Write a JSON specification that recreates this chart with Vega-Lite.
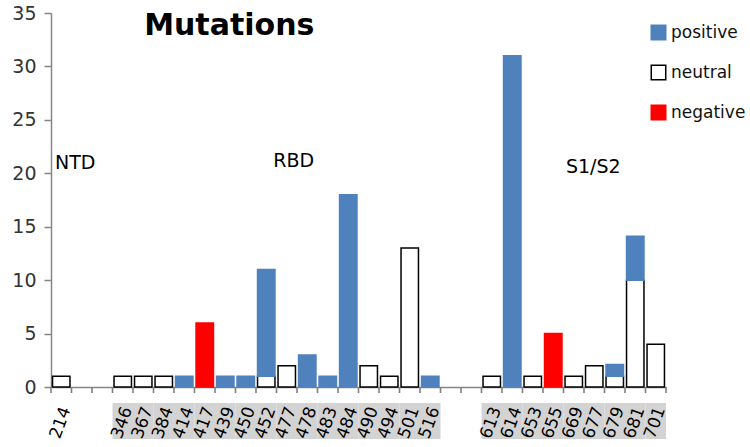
{
  "$schema": "https://vega.github.io/schema/vega-lite/v6.json",
  "padding": {"left": 11, "top": 4, "right": 0, "bottom": 0},
  "background": "white",
  "spacing": 0,
  "bounds": "flush",
  "config": {"view": {"stroke": null}, "font": "DejaVu Sans"},
  "datasets": {
    "bars": [
      {"pos": "214", "type": "neutral", "n": 1},
      {"pos": "346", "type": "neutral", "n": 1},
      {"pos": "367", "type": "neutral", "n": 1},
      {"pos": "384", "type": "neutral", "n": 1},
      {"pos": "414", "type": "positive", "n": 1},
      {"pos": "417", "type": "negative", "n": 6},
      {"pos": "439", "type": "positive", "n": 1},
      {"pos": "450", "type": "positive", "n": 1},
      {"pos": "452", "type": "neutral", "n": 1},
      {"pos": "452", "type": "positive", "n": 10},
      {"pos": "477", "type": "neutral", "n": 2},
      {"pos": "478", "type": "positive", "n": 3},
      {"pos": "483", "type": "positive", "n": 1},
      {"pos": "484", "type": "positive", "n": 18},
      {"pos": "490", "type": "neutral", "n": 2},
      {"pos": "494", "type": "neutral", "n": 1},
      {"pos": "501", "type": "neutral", "n": 13},
      {"pos": "516", "type": "positive", "n": 1},
      {"pos": "613", "type": "neutral", "n": 1},
      {"pos": "614", "type": "positive", "n": 31},
      {"pos": "653", "type": "neutral", "n": 1},
      {"pos": "655", "type": "negative", "n": 5},
      {"pos": "669", "type": "neutral", "n": 1},
      {"pos": "677", "type": "neutral", "n": 2},
      {"pos": "679", "type": "neutral", "n": 1},
      {"pos": "679", "type": "positive", "n": 1.1},
      {"pos": "681", "type": "neutral", "n": 10},
      {"pos": "681", "type": "positive", "n": 4.1},
      {"pos": "701", "type": "neutral", "n": 4}
    ],
    "labels": [
      {"pos": "214", "group": "NTD"},
      {"pos": "b1", "group": "none"},
      {"pos": "b2", "group": "none"},
      {"pos": "346", "group": "RBD"},
      {"pos": "367", "group": "RBD"},
      {"pos": "384", "group": "RBD"},
      {"pos": "414", "group": "RBD"},
      {"pos": "417", "group": "RBD"},
      {"pos": "439", "group": "RBD"},
      {"pos": "450", "group": "RBD"},
      {"pos": "452", "group": "RBD"},
      {"pos": "477", "group": "RBD"},
      {"pos": "478", "group": "RBD"},
      {"pos": "483", "group": "RBD"},
      {"pos": "484", "group": "RBD"},
      {"pos": "490", "group": "RBD"},
      {"pos": "494", "group": "RBD"},
      {"pos": "501", "group": "RBD"},
      {"pos": "516", "group": "RBD"},
      {"pos": "b3", "group": "none"},
      {"pos": "b4", "group": "none"},
      {"pos": "613", "group": "S1/S2"},
      {"pos": "614", "group": "S1/S2"},
      {"pos": "653", "group": "S1/S2"},
      {"pos": "655", "group": "S1/S2"},
      {"pos": "669", "group": "S1/S2"},
      {"pos": "677", "group": "S1/S2"},
      {"pos": "679", "group": "S1/S2"},
      {"pos": "681", "group": "S1/S2"},
      {"pos": "701", "group": "S1/S2"}
    ]
  },
  "resolve": {"scale": {"x": "independent"}},
  "vconcat": [
    {
      "width": 615,
      "height": 374,
      "layer": [
        {
          "data": {"name": "bars"},
          "mark": {"type": "bar", "strokeWidth": 1.5},
          "encoding": {
            "x": {
              "field": "pos", "type": "nominal",
              "scale": {
                "domain": ["214","b1","b2","346","367","384","414","417","439","450","452","477","478","483","484","490","494","501","516","b3","b4","613","614","653","655","669","677","679","681","701"],
                "paddingInner": 0.15, "paddingOuter": 0.075
              },
              "axis": {"labels": false, "ticks": false, "title": null, "domainColor": "#868686", "domainWidth": 1.5}
            },
            "y": {
              "field": "n", "type": "quantitative", "stack": "zero",
              "scale": {"domain": [0, 35], "nice": false},
              "axis": {"values": [0,5,10,15,20,25,30,35], "grid": false, "title": null, "tickSize": 7, "labelPadding": 8, "labelFontSize": 19, "labelColor": "#333333", "labelFont": "DejaVu Sans", "domainColor": "#868686", "tickColor": "#868686", "domainWidth": 1.5, "tickWidth": 1.5}
            },
            "fill": {
              "field": "type", "type": "nominal",
              "scale": {"domain": ["positive", "neutral", "negative"], "range": ["#4F81BD", "#FFFFFF", "#FF0000"]},
              "legend": {"title": null, "orient": "none", "legendX": 599, "legendY": 11, "symbolType": "square", "symbolSize": 210, "labelFontSize": 17, "labelFont": "DejaVu Sans", "labelColor": "#111111", "rowPadding": 19, "labelOffset": 4, "padding": 0}
            },
            "stroke": {
              "field": "type", "type": "nominal",
              "scale": {"domain": ["positive", "neutral", "negative"], "range": ["#4F81BD", "#000000", "#FF0000"]},
              "legend": {"title": null, "orient": "none", "legendX": 599, "legendY": 11, "symbolType": "square", "symbolSize": 210, "labelFontSize": 17, "labelFont": "DejaVu Sans", "labelColor": "#111111", "rowPadding": 19, "labelOffset": 4, "padding": 0}
            },
            "order": {"field": "type", "sort": "ascending"}
          }
        },
        {
          "data": {"values": [{}]},
          "mark": {"type": "text", "text": "Mutations", "fontSize": 30, "fontWeight": "bold", "font": "DejaVu Sans", "baseline": "alphabetic", "align": "center", "dx": 4, "color": "#000000"},
          "encoding": {"x": {"datum": "439"}, "y": {"datum": 32.9}}
        },
        {
          "data": {"values": [{}]},
          "mark": {"type": "text", "text": "NTD", "fontSize": 19, "font": "DejaVu Sans", "baseline": "alphabetic", "align": "center", "dx": 14, "color": "#000000"},
          "encoding": {"x": {"datum": "214"}, "y": {"datum": 20.4}}
        },
        {
          "data": {"values": [{}]},
          "mark": {"type": "text", "text": "RBD", "fontSize": 19, "font": "DejaVu Sans", "baseline": "alphabetic", "align": "center", "dx": 7, "color": "#000000"},
          "encoding": {"x": {"datum": "477"}, "y": {"datum": 20.6}}
        },
        {
          "data": {"values": [{}]},
          "mark": {"type": "text", "text": "S1/S2", "fontSize": 19, "font": "DejaVu Sans", "baseline": "alphabetic", "align": "center", "dx": -1, "color": "#000000"},
          "encoding": {"x": {"datum": "677"}, "y": {"datum": 20.0}}
        }
      ]
    },
    {
      "width": 615,
      "height": 60,
      "data": {"name": "labels"},
      "encoding": {
        "x": {
          "field": "pos", "type": "nominal",
          "scale": {
            "domain": ["214","b1","b2","346","367","384","414","417","439","450","452","477","478","483","484","490","494","501","516","b3","b4","613","614","653","655","669","677","679","681","701"],
            "paddingInner": 0, "paddingOuter": 0
          },
          "axis": null
        }
      },
      "layer": [
        {
          "transform": [{"filter": "datum.group == 'RBD' || datum.group == 'S1/S2'"}],
          "mark": {"type": "rect", "color": "#D3D3D3"},
          "encoding": {
            "y": {"datum": 0.267, "type": "quantitative", "scale": {"domain": [0, 1], "reverse": true, "nice": false}, "axis": null},
            "y2": {"datum": 0.867}
          }
        },
        {
          "mark": {"type": "rule", "color": "#808080", "strokeWidth": 1.6},
          "encoding": {
            "x": {"field": "pos", "type": "nominal", "bandPosition": 0},
            "y": {"datum": 0, "type": "quantitative"},
            "y2": {"datum": 0.1}
          }
        },
        {
          "transform": [{"filter": "datum.pos == '701'"}],
          "mark": {"type": "rule", "color": "#808080", "strokeWidth": 1.6},
          "encoding": {
            "x": {"field": "pos", "type": "nominal", "bandPosition": 1},
            "y": {"datum": 0, "type": "quantitative"},
            "y2": {"datum": 0.1}
          }
        },
        {
          "transform": [{"filter": "datum.group != 'none'"}],
          "mark": {"type": "text", "angle": -70, "align": "center", "baseline": "middle", "fontSize": 17, "font": "DejaVu Sans", "color": "#000000", "dx": -2},
          "encoding": {
            "text": {"field": "pos"},
            "y": {"datum": 0.567, "type": "quantitative"}
          }
        }
      ]
    }
  ]
}
